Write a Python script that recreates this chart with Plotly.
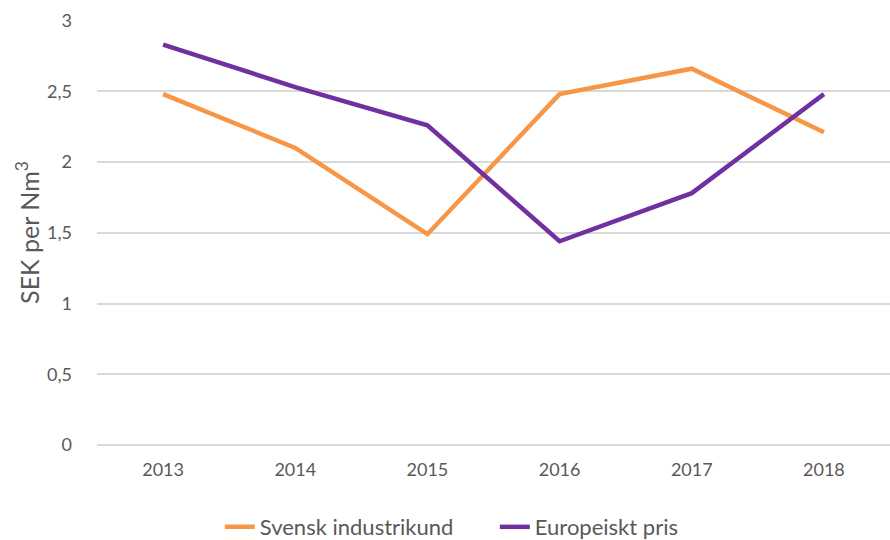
import plotly.graph_objects as go

years = ["2013", "2014", "2015", "2016", "2017", "2018"]
svensk = [2.48, 2.10, 1.49, 2.48, 2.66, 2.21]
europeiskt = [2.83, 2.53, 2.26, 1.44, 1.78, 2.48]
y_ticks = [0, 0.5, 1, 1.5, 2, 2.5, 3]
y_tick_labels = ["0", "0,5", "1", "1,5", "2", "2,5", "3"]

font = "Lato, 'Open Sans', sans-serif"
grey = "#595959"

fig = go.Figure()
fig.add_trace(go.Scatter(x=years, y=svensk, mode="lines", name="Svensk industrikund",
                         line=dict(color="#F79646", width=4.5)))
fig.add_trace(go.Scatter(x=years, y=europeiskt, mode="lines", name="Europeiskt pris",
                         line=dict(color="#7030A0", width=4.5)))

fig.update_layout(
    width=890, height=540,
    margin=dict(l=97, r=0, t=20, b=95, autoexpand=False),
    paper_bgcolor="white", plot_bgcolor="white",
    font=dict(family=font, size=18, color=grey),
    legend=dict(orientation="h", xref="container", x=0.247, xanchor="left",
                yref="container", y=0.024, yanchor="middle",
                entrywidth=230, entrywidthmode="pixels",
                font=dict(size=22, color=grey)),
    xaxis=dict(type="category", range=[-0.5, 5.5], showgrid=False, showline=False,
               automargin=False, ticks="", ticklabelstandoff=12,
               tickfont=dict(size=18, color=grey)),
    yaxis=dict(range=[0, 3.004], tickvals=y_ticks, ticktext=y_tick_labels,
               showgrid=True, gridcolor="#D9D9D9", gridwidth=1.5,
               zeroline=True, zerolinecolor="#D9D9D9", zerolinewidth=1.5,
               automargin=False, ticks="", ticklabelstandoff=24,
               tickfont=dict(size=18, color=grey),
               title=dict(text="SEK per Nm<sup>3</sup>", font=dict(size=25, color=grey),
                          standoff=0)),
)

fig.write_html("out.html", config={"displayModeBar": False},
               post_script="document.body.style.margin='0';document.body.style.overflow='hidden';")
